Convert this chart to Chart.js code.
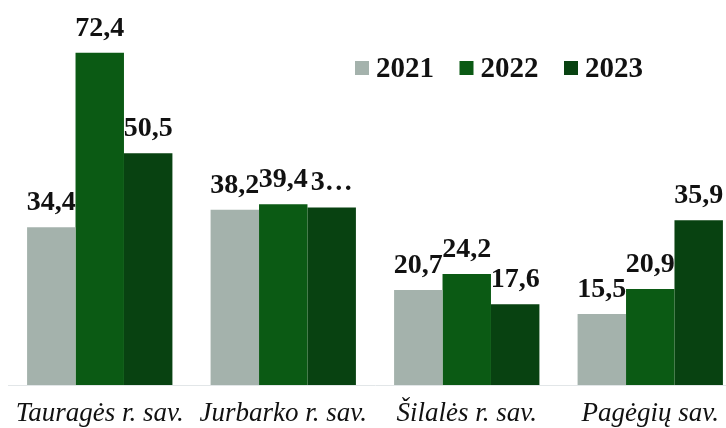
<!DOCTYPE html>
<html>
<head>
<meta charset="utf-8">
<script src="https://cdn.jsdelivr.net/npm/chart.js@4.4.1/dist/chart.umd.min.js"></script>
<style>
  html, body { margin: 0; padding: 0; background: #fff; overflow: hidden; }
  #wrap { width: 742px; height: 428px; position: relative; }
</style>
</head>
<body>
<div id="wrap"><canvas id="chart"></canvas></div>
<script>
// savivaldybės
const categories = ['Tauragės r. sav.', 'Jurbarko r. sav.', 'Šilalės r. sav.', 'Pagėgių sav.'];
const years = ['2021', '2022', '2023'];
const values2021 = [34.4, 38.2, 20.7, 15.5];
const values2022 = [72.4, 39.4, 24.2, 20.9];
const values2023 = [50.5, 38.7, 17.6, 35.9];
const colors = ['#a4b2ac', '#0b5a14', '#084211'];
// the original cut off this one label
const clippedLabels = { '2-1': '3…' };

Chart.defaults.maintainAspectRatio = false;
Chart.defaults.font.family = '"Liberation Serif", "Times New Roman", serif';

const fmt = v => v.toFixed(1).replace('.', ',');

const valueLabels = {
    id: 'valueLabels',
    afterDatasetsDraw(chart) {
        const ctx = chart.ctx;
        ctx.save();
        ctx.font = 'bold 28px "Liberation Serif", serif';
        ctx.fillStyle = '#111';
        ctx.textAlign = 'center';
        ctx.textBaseline = 'alphabetic';
        chart.data.datasets.forEach((ds, di) => {
            chart.getDatasetMeta(di).data.forEach((bar, i) => {
                const txt = clippedLabels[di + '-' + i] || fmt(ds.data[i]);
                ctx.fillText(txt, bar.x, bar.y - 17);
            });
        });
        ctx.restore();
    }
};

const inlineLegend = {
    id: 'inlineLegend',
    afterDraw(chart) {
        const ctx = chart.ctx;
        ctx.save();
        ctx.font = 'bold 29px "Liberation Serif", serif';
        ctx.textBaseline = 'alphabetic';
        ctx.textAlign = 'left';
        let x = 355;
        chart.data.datasets.forEach(ds => {
            ctx.fillStyle = ds.backgroundColor;
            ctx.fillRect(x, 61, 14, 14);
            ctx.fillStyle = '#111';
            ctx.fillText(ds.label, x + 21, 77);
            x += 104.5;
        });
        ctx.restore();
    }
};

const ctx = document.getElementById('chart').getContext('2d');
const chart = new Chart(ctx, {
    type: 'bar',
    data: {
        labels: categories,
        datasets: [
            { label: years[0], data: values2021, backgroundColor: colors[0] },
            { label: years[1], data: values2022, backgroundColor: colors[1] },
            { label: years[2], data: values2023, backgroundColor: colors[2] }
        ]
    },
    options: {
        responsive: true,
        animation: false,
        layout: { padding: { left: 8, right: 0, top: 18, bottom: 0 } },
        datasets: {
            bar: { barPercentage: 1, categoryPercentage: 0.792 }
        },
        scales: {
            x: {
                grid: { display: false, drawTicks: false },
                border: { display: true, color: '#e2e6e8', dash: [2, 2] },
                ticks: {
                    color: '#111',
                    padding: 13,
                    font: { size: 27, style: 'italic' },
                    maxRotation: 0
                },
                afterFit(scale) { scale.height = 43; }
            },
            y: {
                display: false,
                min: 0,
                max: 80
            }
        },
        plugins: {
            legend: { display: false },
            tooltip: { enabled: false }
        }
    },
    plugins: [valueLabels, inlineLegend]
});
</script>
</body>
</html>
